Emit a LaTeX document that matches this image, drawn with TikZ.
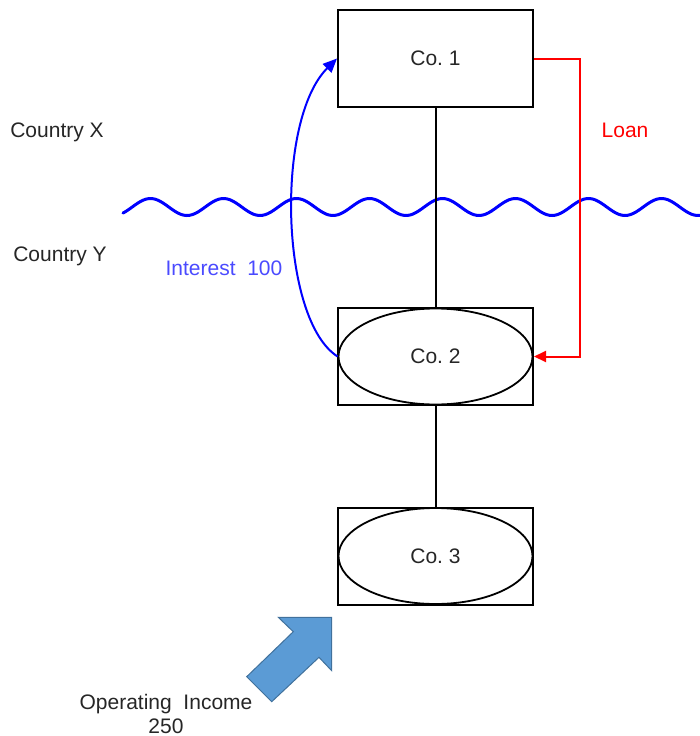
\documentclass[tikz,border=0pt]{standalone}
\usepackage{fontspec}
\setmainfont{Liberation Sans}
\usetikzlibrary{shapes.geometric,arrows.meta}
\definecolor{txt}{HTML}{262626}
\definecolor{intblue}{HTML}{4A4AFF}
\definecolor{arrfill}{HTML}{5B9BD5}
\definecolor{arrdraw}{HTML}{41719C}
\tikzset{
  cobox/.style={draw=black, line width=2pt, rectangle, minimum width=195pt, minimum height=97pt, inner sep=0pt},
  coell/.style={draw=black, line width=1.8pt, ellipse, minimum width=194pt, minimum height=96pt, inner sep=0pt, text=txt, font=\fontsize{21}{25}\selectfont},
  lbl/.style={text=txt, font=\fontsize{21}{25}\selectfont, inner sep=0pt},
  link/.style={draw=black, line width=2pt}
}
\begin{document}
\begin{tikzpicture}[x=1pt,y=-1pt]
\useasboundingbox (0,0) rectangle (700,736);
% wave
\draw[blue, line width=3pt, line cap=round] plot[domain=123:700, samples=200, smooth] (\x, {207+8.5*cos((\x-114)*4.93151)});
% companies
\node[cobox, text=txt, font=\fontsize{21}{25}\selectfont] (c1) at (435.5,58.5) {Co.\ 1};
\node[cobox] (c2) at (435.5,356.5) {};
\node[coell] (e2) at (c2) {Co.\ 2};
\node[cobox] (c3) at (435.5,556) {};
\node[coell] (e3) at (c3) {Co.\ 3};
\draw[link] (c1.south) -- (c2.north);
\draw[link] (c2.south) -- (c3.north);
% loan
\coordinate (lr) at (580,58.5);
\coordinate (lb) at (580,356.5);
\draw[red, line width=2pt, -{Triangle[length=12pt,width=11pt]}] (c1.east) -- (lr) -- (lb) -- (c2.east);
% interest
\draw[blue, line width=2pt, -{Triangle[length=14pt,width=12pt]}] (e2.west) .. controls (280,320) and (275,120) .. (c1.west);
% labels
\node[lbl] (cx) at (57,132) {Country\ X};
\node[lbl] (cy) at (60,256) {Country\ Y};
\node[lbl, text=red] (loan) at (625,130) {Loan};
\node[lbl, text=intblue] (int) at (224,268) {Interest\ \ 100};
\node[lbl, anchor=base] (op1) at (166,709) {Operating\ \ Income};
\node[lbl, anchor=base] (op2) at (166,733) {250};
% block arrow
\draw[fill=arrfill, draw=arrdraw, line width=1pt, line join=miter]
  (331.7,617.3) -- (331.7,670.7) -- (319,657.3) -- (271.7,701.7) -- (246.7,676.7) -- (293.3,631.7) -- (278.3,617.3) -- cycle;
\end{tikzpicture}
\end{document}
